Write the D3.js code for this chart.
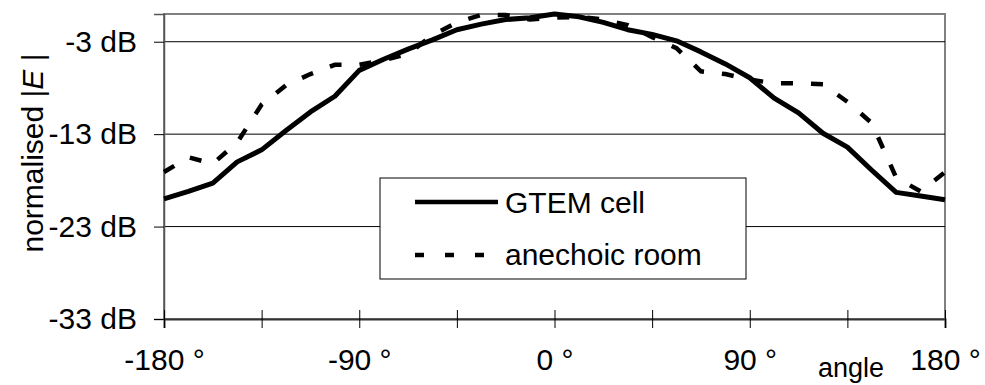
<!DOCTYPE html>
<html><head><meta charset="utf-8">
<script src="https://cdn.jsdelivr.net/npm/d3@7"></script>
<style>
body{margin:0;background:#fff;}
text{font-family:"Liberation Sans",Arial,sans-serif;fill:#000;}
</style></head>
<body><svg id="c" width="985" height="385"></svg>
<script>
const angles = [-180,-168.75,-157.5,-146.25,-135,-123.75,-112.5,-101.25,-90,-78.75,-67.5,-56.25,-45,-33.75,-22.5,-11.25,0,11.25,22.5,33.75,45,56.25,67.5,78.75,90,101.25,112.5,123.75,135,146.25,157.5,168.75,180];
const gtemCell = [-20.0,-19.2,-18.3,-16.0,-14.7,-12.6,-10.6,-8.9,-6.1,-4.9,-3.8,-2.8,-1.7,-1.1,-0.6,-0.4,0.0,-0.3,-0.9,-1.7,-2.2,-2.9,-4.1,-5.4,-6.9,-9.1,-10.7,-12.9,-14.4,-16.9,-19.3,-19.7,-20.1];
const anechoicRoom = [-17.1,-15.5,-16.2,-13.9,-9.8,-7.7,-6.5,-5.5,-5.5,-5.0,-4.3,-2.3,-0.9,-0.1,-0.1,-0.6,-0.4,-0.3,-0.6,-1.2,-2.5,-3.7,-6.2,-6.5,-7.1,-7.5,-7.5,-7.6,-9.5,-11.8,-17.7,-19.2,-17.1];
const yTicks = [-3,-13,-23,-33];
const xTicks = [-180,-135,-90,-45,0,45,90,135,180];
const xLabels = {"-180":"-180 °","-90":"-90 °","0":"0 °","90":"90 °","180":"180 °"};
const seriesNames = ["GTEM cell","anechoic room"];

const svg = d3.select("#c");
const L=164, R=945, T=14, B=319;
const x = d3.scaleLinear().domain([-180,180]).range([L,R]);
const y = d3.scaleLinear().domain([-33,0]).range([B,T]);

// plot background + frame
svg.append("rect").attr("x",L).attr("y",T).attr("width",R-L).attr("height",B-T)
  .attr("fill","#fff").attr("stroke","#808080").attr("stroke-width",2);

// gridlines
svg.append("g").selectAll("line").data(yTicks.filter(d=>d!==-33)).join("line")
  .attr("x1",L).attr("x2",R).attr("y1",d=>y(d)).attr("y2",d=>y(d))
  .attr("stroke","#000").attr("stroke-width",1);

// y axis
const ya = svg.append("g").attr("transform",`translate(${L},0)`)
  .call(d3.axisLeft(y).tickValues(yTicks).tickFormat(d=>d+" dB").tickSize(10).tickPadding(17));
ya.select(".domain").attr("stroke","#555").attr("stroke-width",1.5);
ya.selectAll(".tick line").attr("stroke","#000");
ya.selectAll("text").attr("font-size",30).attr("font-family","Liberation Sans, Arial, sans-serif");

// x axis
const xa = svg.append("g").attr("transform",`translate(0,${B})`)
  .call(d3.axisBottom(x).tickValues(xTicks).tickFormat(d=>xLabels[String(d)]||"").tickSize(9).tickPadding(21));
xa.select(".domain").attr("stroke","#333").attr("stroke-width",2);
xa.selectAll(".tick line").attr("y1",-9).attr("stroke","#000");
xa.selectAll("text").attr("font-size",30).attr("font-family","Liberation Sans, Arial, sans-serif");

// lines
const line = d3.line().x((d,i)=>x(angles[i])).y(d=>y(d));
svg.append("path").datum(anechoicRoom).attr("d",line).attr("fill","none")
  .attr("stroke","#000").attr("stroke-width",4.5).attr("stroke-dasharray","12,18");
svg.append("path").datum(gtemCell).attr("d",line).attr("fill","none")
  .attr("stroke","#000").attr("stroke-width",5).attr("stroke-linejoin","round");

// legend
const lg = svg.append("g");
lg.append("rect").attr("x",380).attr("y",178).attr("width",366).attr("height",101)
  .attr("fill","#fff").attr("stroke","#000").attr("stroke-width",1);
lg.append("line").attr("x1",415).attr("x2",498).attr("y1",202).attr("y2",202)
  .attr("stroke","#000").attr("stroke-width",4.5);
lg.append("line").attr("x1",415).attr("x2",486).attr("y1",255).attr("y2",255)
  .attr("stroke","#000").attr("stroke-width",4.5).attr("stroke-dasharray","9,21");
lg.append("text").attr("x",505).attr("y",213).attr("font-size",30).text(seriesNames[0]);
lg.append("text").attr("x",505).attr("y",265).attr("font-size",30).text(seriesNames[1]);

// axis titles
const yt = svg.append("text").attr("transform","translate(43,153) rotate(-90)")
  .attr("text-anchor","middle").attr("font-size",30);
yt.append("tspan").text("normalised |");
yt.append("tspan").attr("font-style","italic").text("E");
yt.append("tspan").text(" |");
svg.append("text").attr("x",818).attr("y",377).attr("font-size",27).text("angle");
</script></body></html>
